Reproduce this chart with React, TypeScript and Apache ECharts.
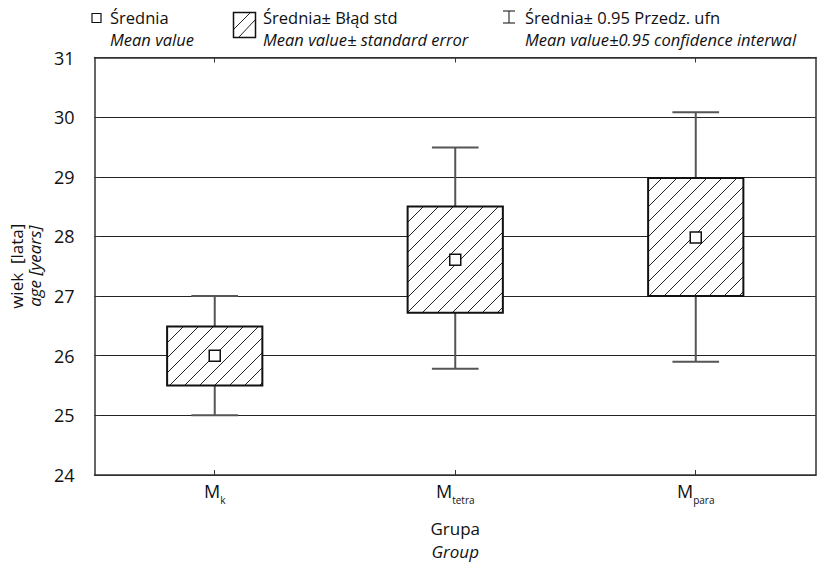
import React, { useEffect, useRef } from "react";
import * as echarts from "echarts";

const groupSubs = ["k", "tetra", "para"];
const categories = groupSubs.map((s) => "M_" + s);
const meanValues = [26.0, 27.61, 27.98];
const seLow = [25.5, 26.72, 27.0];
const seHigh = [26.49, 28.5, 28.98];
const ciLow = [25.0, 25.78, 25.9];
const ciHigh = [27.0, 29.49, 30.08];
const yMin = 24;
const yMax = 31;
const yInterval = 1;

const legendMain = ["Średnia", "Średnia± Błąd std", "Średnia± 0.95 Przedz. ufn"];
const legendSub = ["Mean value", "Mean value± standard error", "Mean value±0.95 confidence interwal"];

const FONT = "'Open Sans', sans-serif";
const TXT = "#111";

export default function App() {
  const ref = useRef<HTMLDivElement>(null);
  useEffect(() => {
    if (!ref.current) return;
    const chart = echarts.init(ref.current, undefined, { renderer: "svg" });
    const data = categories.map((c, i) => [i, meanValues[i], seLow[i], seHigh[i], ciLow[i], ciHigh[i]]);
    const subOf: Record<string, string> = {};
    categories.forEach((c, i) => (subOf[c] = groupSubs[i]));

    const renderItem = (params: any, api: any) => {
      const i = api.value(0);
      const cx = api.coord([i, api.value(1)])[0];
      const yMean = api.coord([i, api.value(1)])[1];
      const ySeLo = api.coord([i, api.value(2)])[1];
      const ySeHi = api.coord([i, api.value(3)])[1];
      const yCiLo = api.coord([i, api.value(4)])[1];
      const yCiHi = api.coord([i, api.value(5)])[1];
      const band = api.size([1, 0])[0];
      const bw = band * 0.396;
      const cw = band * 0.194;
      const x0 = cx - bw / 2;
      const x1 = cx + bw / 2;
      const y0 = ySeHi;
      const y1 = ySeLo;
      const wStyle = { stroke: "#555", lineWidth: 2 };
      const children: any[] = [
        { type: "line", shape: { x1: cx, y1: yCiHi, x2: cx, y2: y0 }, style: wStyle },
        { type: "line", shape: { x1: cx, y1: y1, x2: cx, y2: yCiLo }, style: wStyle },
        { type: "line", shape: { x1: cx - cw / 2, y1: yCiHi, x2: cx + cw / 2, y2: yCiHi }, style: wStyle },
        { type: "line", shape: { x1: cx - cw / 2, y1: yCiLo, x2: cx + cw / 2, y2: yCiLo }, style: wStyle },
        { type: "rect", shape: { x: x0, y: y0, width: bw, height: y1 - y0 }, style: { fill: "#fff" } },
      ];
      const step = 15;
      const cStart = Math.ceil((x0 + y0) / step) * step;
      for (let c = cStart; c < x1 + y1; c += step) {
        const xa = Math.max(x0, c - y1);
        const xb = Math.min(x1, c - y0);
        if (xb > xa) {
          children.push({
            type: "line",
            shape: { x1: xa, y1: c - xa, x2: xb, y2: c - xb },
            style: { stroke: "#222", lineWidth: 1 },
          });
        }
      }
      children.push({
        type: "rect",
        shape: { x: x0, y: y0, width: bw, height: y1 - y0 },
        style: { fill: "none", stroke: "#111", lineWidth: 2 },
      });
      children.push({
        type: "rect",
        shape: { x: cx - 5.5, y: yMean - 5.5, width: 11, height: 11 },
        style: { fill: "#fff", stroke: "#111", lineWidth: 1.5 },
      });
      return { type: "group", children };
    };

    const legendX = [110, 263, 525];
    const l1 = 17;
    const l2 = 39.5;
    const graphic: any[] = [
      { type: "rect", shape: { x: 92, y: l1 - 3.5, width: 9, height: 9 }, style: { fill: "#fff", stroke: "#111", lineWidth: 1.2 } },
      { type: "rect", shape: { x: 233.5, y: 12.5, width: 22, height: 25 }, style: { fill: "#fff", stroke: "#111", lineWidth: 1.5 } },
      { type: "line", shape: { x1: 234, y1: 29, x2: 250, y2: 13 }, style: { stroke: "#222", lineWidth: 1 } },
      { type: "line", shape: { x1: 239, y1: 37, x2: 255, y2: 20 }, style: { stroke: "#222", lineWidth: 1 } },
      { type: "line", shape: { x1: 509, y1: l1 - 6, x2: 509, y2: l1 + 6 }, style: { stroke: "#333", lineWidth: 1.2 } },
      { type: "line", shape: { x1: 503, y1: l1 - 6, x2: 515, y2: l1 - 6 }, style: { stroke: "#333", lineWidth: 1.2 } },
      { type: "line", shape: { x1: 503, y1: l1 + 6, x2: 515, y2: l1 + 6 }, style: { stroke: "#333", lineWidth: 1.2 } },
    ];
    legendMain.forEach((t, i) => {
      graphic.push({
        type: "text", x: legendX[i], y: l1,
        style: { text: t, fill: TXT, font: `16.5px ${FONT}`, verticalAlign: "middle", align: "left" },
      });
      graphic.push({
        type: "text", x: legendX[i], y: l2,
        style: { text: legendSub[i], fill: TXT, font: `italic 16.5px ${FONT}`, verticalAlign: "middle", align: "left" },
      });
    });

    const axisLine = { show: true, lineStyle: { color: "#333", width: 1.5 } };
    chart.setOption({
      animation: false,
      backgroundColor: "#fff",
      grid: { left: 88, right: 7, top: 57.5, bottom: 83 },
      graphic,
      xAxis: [
        {
          type: "category",
          data: categories,
          position: "bottom",
          axisLine,
          axisTick: { show: true, inside: true, alignWithLabel: true, length: 5, lineStyle: { color: "#333" } },
          axisLabel: {
            margin: 7,
            formatter: (v: string) => `{m|M}{s|${subOf[v]}}`,
            rich: {
              m: { fontSize: 18, lineHeight: 22, verticalAlign: "top", fontFamily: FONT, color: TXT },
              s: { fontSize: 10, lineHeight: 12, padding: [13, 0, 0, 0], fontFamily: FONT, color: TXT },
            },
          },
          name: "{a|Grupa}\n{b|Group}",
          nameLocation: "middle",
          nameGap: 42,
          nameTextStyle: {
            rich: {
              a: { fontSize: 17, lineHeight: 23, fontFamily: FONT, color: TXT },
              b: { fontSize: 17, lineHeight: 23, fontStyle: "italic", fontFamily: FONT, color: TXT },
            },
          },
          splitLine: { show: false },
        },
        {
          type: "category",
          data: categories,
          position: "top",
          axisLine,
          axisTick: { show: true, inside: true, alignWithLabel: true, length: 5, lineStyle: { color: "#333" } },
          axisLabel: { show: false },
          splitLine: { show: false },
        },
      ],
      yAxis: [
        {
          type: "value",
          min: yMin,
          max: yMax,
          interval: yInterval,
          position: "left",
          axisLine,
          axisTick: { show: true, inside: true, length: 5, lineStyle: { color: "#333" } },
          axisLabel: { margin: 20, fontSize: 18, fontFamily: FONT, color: TXT },
          splitLine: { show: true, lineStyle: { color: "#222", width: 1 } },
          name: "{a|wiek  [lata]}\n{b|age [years]}",
          nameLocation: "middle",
          nameGap: 42,
          nameTextStyle: {
            rich: {
              a: { fontSize: 17, lineHeight: 18, fontFamily: FONT, color: TXT },
              b: { fontSize: 17, lineHeight: 18, fontStyle: "italic", fontFamily: FONT, color: TXT },
            },
          },
        },
        {
          type: "value",
          min: yMin,
          max: yMax,
          interval: yInterval,
          position: "right",
          axisLine,
          axisTick: { show: true, inside: true, length: 5, lineStyle: { color: "#333" } },
          axisLabel: { show: false },
          splitLine: { show: false },
        },
      ],
      series: [
        {
          type: "custom",
          xAxisIndex: 0,
          yAxisIndex: 0,
          renderItem,
          data,
          encode: { x: 0, y: [1, 2, 3, 4, 5] },
          clip: false,
        },
      ],
    });
    return () => chart.dispose();
  }, []);
  return <div ref={ref} style={{ width: 823, height: 565, position: "absolute", left: 0, top: 0 }} />;
}
